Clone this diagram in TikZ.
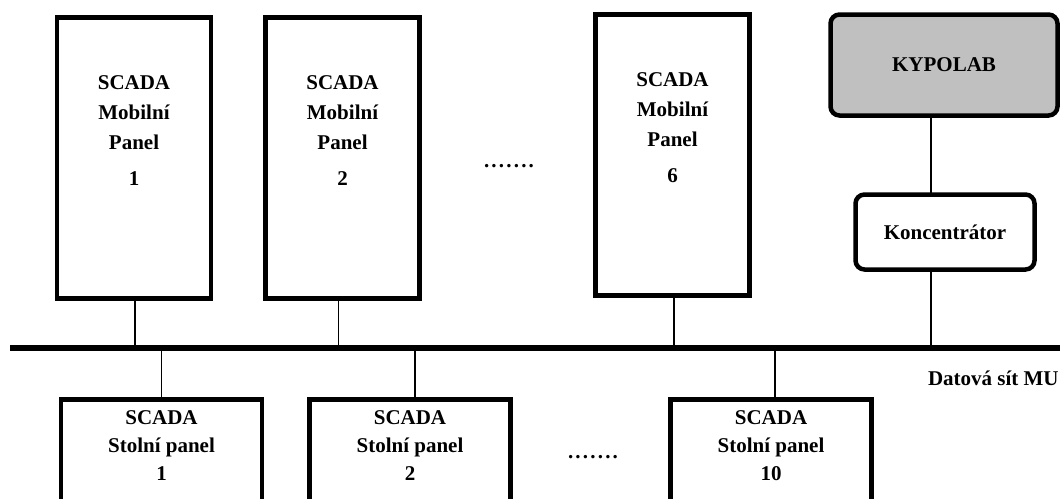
\documentclass[tikz,border=0pt]{standalone}
\usepackage{fontspec}
\setmainfont{Liberation Serif}
\definecolor{kgray}{HTML}{C0C0C0}
\newcommand{\dotrow}{.\kern2.2pt.\kern2.2pt.\kern2.2pt.\kern2.2pt.\kern2.2pt.\kern2.2pt.}
\begin{document}
\begin{tikzpicture}[x=1pt,y=-1pt,
  every node/.style={inner sep=0pt, outer sep=0pt},
  mbox/.style={draw=black, line width=4.5pt, rectangle, minimum width=154pt, minimum height=281pt},
  sbox/.style={draw=black, line width=4.5pt, rectangle, minimum width=201pt, minimum height=140pt},
  rbox/.style={draw=black, line width=4.5pt, rectangle, rounded corners=9pt},
  lbl/.style={font=\bfseries\fontsize{21}{30}\selectfont, align=center, anchor=north},
  slbl/.style={font=\bfseries\fontsize{21}{28}\selectfont, align=center, anchor=north},
  txt/.style={font=\bfseries\fontsize{21}{25}\selectfont},
  link/.style={draw=black, line width=1.3pt},
  bus/.style={draw=black, line width=5.5pt}]
\useasboundingbox (0,0) rectangle (1060,498);
% mobile panels
\node[mbox] (m1) at (134,158) {};
\node[mbox] (m2) at (342.5,158) {};
\node[mbox] (m6) at (672.5,155) {};
\node[lbl] (m1t) at ([yshift=-58.5pt]m1.north) {SCADA\\Mobilní\\Panel\\[6pt]1};
\node[lbl] (m2t) at ([yshift=-58.5pt]m2.north) {SCADA\\Mobilní\\Panel\\[6pt]2};
\node[lbl] (m6t) at ([yshift=-58.5pt]m6.north) {SCADA\\Mobilní\\Panel\\[6pt]6};
\node[txt, anchor=base] (d1) at (509,167) {\dotrow};
% KYPOLAB and concentrator
\node[rbox, fill=kgray, minimum width=227pt, minimum height=101pt, txt] (kyp) at (944,65) {KYPOLAB};
\node[rbox, fill=white, minimum width=179pt, minimum height=75pt, txt] (konc) at (945,232) {Koncentrátor};
% bus
\coordinate (busL) at (10,348);
\coordinate (busR) at (1062,348);
\draw[bus] (busL) -- (busR);
\node[txt, anchor=base west] (net) at (928,385) {Datová sít MU};
% desk panels
\node[sbox, anchor=north] (s1) at (161.5,399.5) {};
\node[sbox, anchor=north] (s2) at (410,399.5) {};
\node[sbox, anchor=north] (s10) at (771,399.5) {};
\node[slbl] (s1t) at ([yshift=-11.5pt]s1.north) {SCADA\\Stolní panel\\1};
\node[slbl] (s2t) at ([yshift=-11.5pt]s2.north) {SCADA\\Stolní panel\\2};
\node[slbl] (s10t) at ([yshift=-11.5pt]s10.north) {SCADA\\Stolní panel\\10};
\node[txt, anchor=base] (d2) at (593,458) {\dotrow};
% connectors
\draw[link] ([xshift=1pt]m1.south) -- ([xshift=1pt]m1.south |- busL);
\draw[link] ([xshift=-4pt]m2.south) -- ([xshift=-4pt]m2.south |- busL);
\draw[link] ([xshift=1.5pt]m6.south) -- ([xshift=1.5pt]m6.south |- busL);
\draw[link] ([xshift=-13pt]kyp.south) -- ([xshift=-13pt]kyp.south |- konc.north);
\draw[link] ([xshift=-14pt]konc.south) -- ([xshift=-14pt]konc.south |- busL);
\draw[link] (s1.north) -- (s1.north |- busL);
\draw[link] ([xshift=5pt]s2.north) -- ([xshift=5pt]s2.north |- busL);
\draw[link] ([xshift=4pt]s10.north) -- ([xshift=4pt]s10.north |- busL);
\end{tikzpicture}
\end{document}
